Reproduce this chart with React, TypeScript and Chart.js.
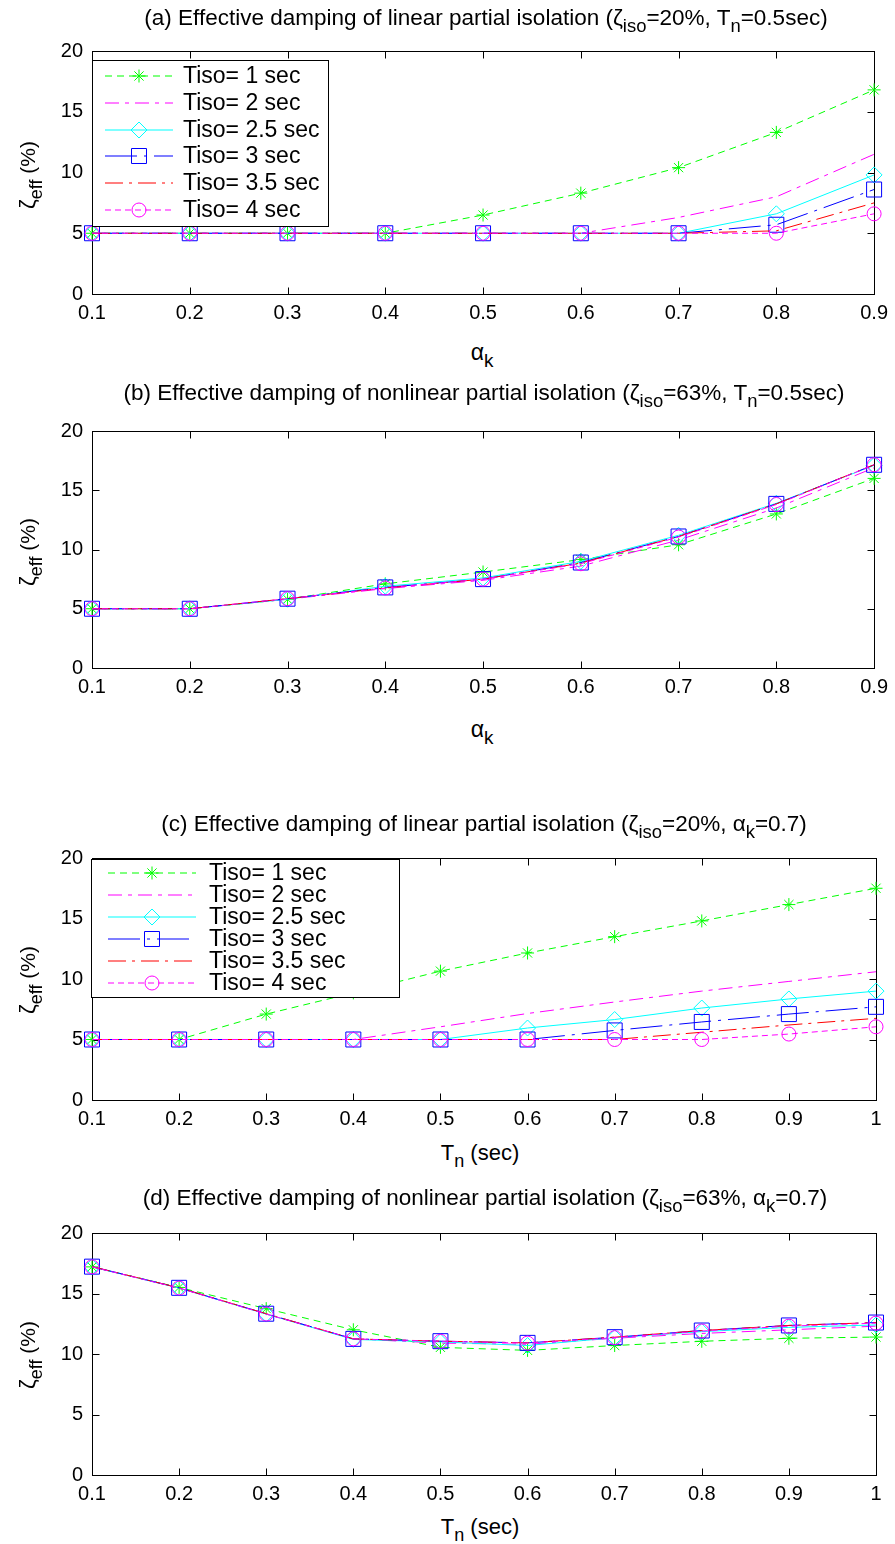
import React, { useEffect, useRef } from "react";
import { Chart, registerables } from "chart.js";

Chart.register(...registerables);

// ---------------- data ----------------
const SERIES_LABELS = ["Tiso= 1 sec", "Tiso= 2 sec", "Tiso= 2.5 sec", "Tiso= 3 sec", "Tiso= 3.5 sec", "Tiso= 4 sec"];

const ALPHA_K = [0.1, 0.2, 0.3, 0.4, 0.5, 0.6, 0.7, 0.8, 0.9];
const TN = [0.1, 0.2, 0.3, 0.4, 0.5, 0.6, 0.7, 0.8, 0.9, 1.0];

const ALPHA_TICK_LABELS = ["0.1", "0.2", "0.3", "0.4", "0.5", "0.6", "0.7", "0.8", "0.9"];
const TN_TICK_LABELS = ["0.1", "0.2", "0.3", "0.4", "0.5", "0.6", "0.7", "0.8", "0.9", "1"];
const Y_TICKS = [0, 5, 10, 15, 20];
const Y_TICK_LABELS = ["0", "5", "10", "15", "20"];

// (a) linear partial isolation, zeta_iso = 20%, Tn = 0.5 s
const A_T1 = [5, 5, 5, 5, 6.5, 8.3, 10.4, 13.3, 16.8];
const A_T2 = [5, 5, 5, 5, 5, 5, 6.3, 8.0, 11.5];
const A_T25 = [5, 5, 5, 5, 5, 5, 5, 6.6, 9.8];
const A_T3 = [5, 5, 5, 5, 5, 5, 5, 5.7, 8.6];
const A_T35 = [5, 5, 5, 5, 5, 5, 5, 5.2, 7.5];
const A_T4 = [5, 5, 5, 5, 5, 5, 5, 5.0, 6.6];

// (b) nonlinear partial isolation, zeta_iso = 63%, Tn = 0.5 s
const B_T1 = [5, 5, 5.8, 7.1, 8.1, 9.15, 10.4, 13.0, 16.0];
const B_T2 = [5, 5, 5.8, 6.7, 7.4, 8.6, 10.8, 13.5, 16.9];
const B_T25 = [5, 5, 5.8, 6.9, 7.6, 9.0, 11.2, 13.9, 17.1];
const B_T3 = [5, 5, 5.85, 6.8, 7.5, 8.9, 11.1, 13.85, 17.15];
const B_T35 = [5, 5, 5.85, 6.75, 7.5, 8.85, 11.1, 13.85, 17.15];
const B_T4 = [5, 5, 5.85, 6.75, 7.5, 8.8, 11.05, 13.8, 17.15];

// (c) linear partial isolation, zeta_iso = 20%, alpha_k = 0.7
const C_T1 = [5, 5, 7.1, 8.85, 10.65, 12.15, 13.5, 14.8, 16.15, 17.5];
const C_T2 = [5, 5, 5, 5, 6.05, 7.15, 8.1, 9.0, 9.8, 10.6];
const C_T25 = [5, 5, 5, 5, 5, 5.95, 6.65, 7.6, 8.35, 9.0];
const C_T3 = [5, 5, 5, 5, 5, 5, 5.75, 6.45, 7.1, 7.7];
const C_T35 = [5, 5, 5, 5, 5, 5, 5, 5.6, 6.2, 6.75];
const C_T4 = [5, 5, 5, 5, 5, 5, 5, 5, 5.45, 6.05];

// (d) nonlinear partial isolation, zeta_iso = 63%, alpha_k = 0.7
const D_T1 = [17.2, 15.5, 13.75, 12.0, 10.55, 10.3, 10.7, 11.05, 11.3, 11.4];
const D_T2 = [17.2, 15.45, 13.3, 11.25, 10.9, 10.8, 11.3, 11.7, 12.0, 12.3];
const D_T25 = [17.2, 15.45, 13.3, 11.2, 11.0, 10.7, 11.35, 11.85, 12.2, 12.4];
const D_T3 = [17.22, 15.47, 13.33, 11.25, 11.06, 10.92, 11.39, 11.94, 12.36, 12.6];
const D_T35 = [17.22, 15.47, 13.33, 11.25, 11.06, 10.92, 11.39, 11.94, 12.36, 12.6];
const D_T4 = [17.2, 15.45, 13.3, 11.25, 11.05, 10.9, 11.35, 11.9, 12.3, 12.55];

// ---------------- styles ----------------
const STYLES = [
  { color: "#00ff00", dash: [7, 5], marker: "star", radius: 6.5 },
  { color: "#ff00ff", dash: [14, 6, 4, 6], marker: "none", radius: 0 },
  { color: "#00ffff", dash: [], marker: "rectRot", radius: 8 },
  { color: "#0000ff", dash: [32, 7, 3, 7], marker: "rect", radius: 10.6 },
  { color: "#ff0000", dash: [18, 6, 3, 6], marker: "none", radius: 0 },
  { color: "#ff00ff", dash: [6, 4], marker: "circle", radius: 7 },
];

const FONT = '"Liberation Sans", Arial, Helvetica, sans-serif';

function drawMarker(ctx: CanvasRenderingContext2D, style: string, x: number, y: number, r: number, color: string) {
  if (style === "none") return;
  ctx.save();
  ctx.strokeStyle = color;
  ctx.lineWidth = 1;
  ctx.setLineDash([]);
  ctx.beginPath();
  if (style === "star") {
    ctx.moveTo(x - r, y); ctx.lineTo(x + r, y);
    ctx.moveTo(x, y - r); ctx.lineTo(x, y + r);
    const d = r * Math.SQRT1_2;
    ctx.moveTo(x - d, y - d); ctx.lineTo(x + d, y + d);
    ctx.moveTo(x - d, y + d); ctx.lineTo(x + d, y - d);
  } else if (style === "rectRot") {
    ctx.moveTo(x - r, y); ctx.lineTo(x, y - r); ctx.lineTo(x + r, y); ctx.lineTo(x, y + r); ctx.closePath();
  } else if (style === "rect") {
    const s = r * Math.SQRT1_2;
    ctx.rect(x - s, y - s, 2 * s, 2 * s);
  } else if (style === "circle") {
    ctx.arc(x, y, r, 0, Math.PI * 2);
  }
  ctx.stroke();
  ctx.restore();
}

const framePlugin = {
  id: "frame",
  beforeDatasetsDraw(chart: any) {
    const { ctx, chartArea, scales } = chart;
    const l = Math.round(chartArea.left) + 0.5;
    const r = Math.round(chartArea.right) + 0.5;
    const t = Math.round(chartArea.top) + 0.5;
    const b = Math.round(chartArea.bottom) + 0.5;
    ctx.save();
    ctx.strokeStyle = "#000";
    ctx.lineWidth = 1;
    ctx.strokeRect(l, t, r - l, b - t);
    const TL = 7;
    ctx.beginPath();
    scales.x.ticks.forEach((tk: any) => {
      const px = Math.round(scales.x.getPixelForValue(tk.value)) + 0.5;
      ctx.moveTo(px, b); ctx.lineTo(px, b - TL);
      ctx.moveTo(px, t); ctx.lineTo(px, t + TL);
    });
    scales.y.ticks.forEach((tk: any) => {
      const py = Math.round(scales.y.getPixelForValue(tk.value)) + 0.5;
      ctx.moveTo(l, py); ctx.lineTo(l + TL, py);
      ctx.moveTo(r, py); ctx.lineTo(r - TL, py);
    });
    ctx.stroke();
    ctx.restore();
  },
};

const boxLegendPlugin = {
  id: "boxLegend",
  afterDatasetsDraw(chart: any, _args: any, opts: any) {
    if (!opts || !opts.show) return;
    const { ctx } = chart;
    ctx.save();
    ctx.fillStyle = "#fff";
    ctx.fillRect(opts.left, opts.top, opts.right - opts.left, opts.bottom - opts.top);
    ctx.strokeStyle = "#000";
    ctx.lineWidth = 1;
    ctx.strokeRect(opts.left + 0.5, opts.top + 0.5, opts.right - opts.left, opts.bottom - opts.top);
    ctx.restore();
    chart.data.datasets.forEach((ds: any, i: number) => {
      const st = STYLES[i];
      const y = Math.round(opts.top + opts.firstRow + i * opts.rowStep);
      ctx.save();
      ctx.strokeStyle = st.color;
      ctx.lineWidth = 1.2;
      ctx.setLineDash(st.dash);
      ctx.beginPath();
      ctx.moveTo(opts.lineX0, y);
      ctx.lineTo(opts.lineX1, y);
      ctx.stroke();
      ctx.restore();
      drawMarker(ctx, st.marker, (opts.lineX0 + opts.lineX1) / 2, y, st.radius, st.color);
      ctx.save();
      ctx.font = `${opts.fontSize}px ${FONT}`;
      ctx.textBaseline = "middle";
      ctx.textAlign = "left";
      ctx.fillStyle = "#000";
      ctx.fillText(ds.label, opts.textX, y + 1);
      ctx.restore();
    });
  },
};

type PanelDef = {
  xs: number[];
  series: number[][];
  xTickLabels: string[];
  canvasTop: number;
  canvasHeight: number;
  areaTop: number;
  areaBottom: number;
  xMax: number;
  legend: any;
};

const PANELS: PanelDef[] = [
  {
    xs: ALPHA_K, series: [A_T1, A_T2, A_T25, A_T3, A_T35, A_T4], xTickLabels: ALPHA_TICK_LABELS,
    canvasTop: 30, canvasHeight: 300, areaTop: 50, areaBottom: 294, xMax: 0.9,
    legend: { show: true, left: 92, top: 60, right: 328, bottom: 226, firstRow: 16, rowStep: 26.8, lineX0: 105, lineX1: 173, textX: 183, fontSize: 23 },
  },
  {
    xs: ALPHA_K, series: [B_T1, B_T2, B_T25, B_T3, B_T35, B_T4], xTickLabels: ALPHA_TICK_LABELS,
    canvasTop: 410, canvasHeight: 295, areaTop: 430, areaBottom: 668, xMax: 0.9,
    legend: { show: false },
  },
  {
    xs: TN, series: [C_T1, C_T2, C_T25, C_T3, C_T35, C_T4], xTickLabels: TN_TICK_LABELS,
    canvasTop: 837, canvasHeight: 298, areaTop: 857, areaBottom: 1100, xMax: 1.0,
    legend: { show: true, left: 91, top: 859, right: 399, bottom: 997, firstRow: 14, rowStep: 22, lineX0: 108, lineX1: 196, textX: 209, fontSize: 23 },
  },
  {
    xs: TN, series: [D_T1, D_T2, D_T25, D_T3, D_T35, D_T4], xTickLabels: TN_TICK_LABELS,
    canvasTop: 1212, canvasHeight: 298, areaTop: 1232, areaBottom: 1475, xMax: 1.0,
    legend: { show: false },
  },
];

function buildChart(canvas: HTMLCanvasElement, p: PanelDef) {
  const padTop = p.areaTop - p.canvasTop;
  const xAxisH = p.canvasTop + p.canvasHeight - p.areaBottom;
  const legendOpts = p.legend.show
    ? { ...p.legend, top: p.legend.top - p.canvasTop, bottom: p.legend.bottom - p.canvasTop }
    : { show: false };
  const tickFont = { family: FONT, size: 20 };
  return new Chart(canvas, {
    type: "line",
    data: {
      datasets: p.series.map((ys, i) => {
        const st = STYLES[i];
        return {
          label: SERIES_LABELS[i],
          data: p.xs.map((x, j) => ({ x, y: ys[j] })),
          borderColor: st.color,
          backgroundColor: "rgba(0,0,0,0)",
          borderWidth: 1,
          borderDash: st.dash,
          pointStyle: st.marker === "none" ? false : st.marker,
          pointRadius: st.radius,
          pointHoverRadius: st.radius,
          pointBorderColor: st.color,
          pointBackgroundColor: "rgba(0,0,0,0)",
          pointBorderWidth: 1,
          tension: 0,
          fill: false,
          clip: false,
          order: 6 - i,
        } as any;
      }),
    },
    options: {
      animation: false,
      responsive: false,
      maintainAspectRatio: false,
      devicePixelRatio: 1,
      events: [],
      layout: { padding: { top: padTop, right: 19, left: 0, bottom: 0 } },
      plugins: {
        legend: { display: false },
        tooltip: { enabled: false },
        title: { display: false },
        boxLegend: legendOpts,
      } as any,
      scales: {
        x: {
          type: "linear",
          min: 0.1,
          max: p.xMax,
          afterBuildTicks: (s: any) => { s.ticks = p.xs.map((v) => ({ value: v })); },
          afterFit: (s: any) => { s.height = xAxisH; },
          grid: { display: false, drawTicks: false },
          border: { display: false },
          ticks: {
            color: "#000", font: tickFont, padding: 7, maxRotation: 0, autoSkip: false,
            callback: (_v: any, i: number) => p.xTickLabels[i],
          },
        },
        y: {
          type: "linear",
          min: 0,
          max: 20,
          afterBuildTicks: (s: any) => { s.ticks = Y_TICKS.map((v) => ({ value: v })); },
          afterFit: (s: any) => { s.width = 92; },
          grid: { display: false, drawTicks: false },
          border: { display: false },
          ticks: {
            color: "#000", font: tickFont, padding: 9,
            callback: (_v: any, i: number) => Y_TICK_LABELS[i],
          },
        },
      },
    } as any,
    plugins: [framePlugin, boxLegendPlugin],
  });
}

const Sub = ({ children, scale = 0.82 }: { children: React.ReactNode; scale?: number }) => (
  <span style={{ fontSize: `${scale}em`, position: "relative", top: "0.38em" }}>{children}</span>
);

const centerText = (x: number, y: number, size: number, content: React.ReactNode, key: string) => (
  <div
    key={key}
    style={{
      position: "absolute", left: x, top: y, transform: "translate(-50%, -50%)",
      whiteSpace: "nowrap", fontSize: size, lineHeight: 1, fontFamily: FONT, color: "#000",
    }}
  >
    {content}
  </div>
);

const yLabel = (x: number, y: number, key: string) => (
  <div
    key={key}
    style={{
      position: "absolute", left: x, top: y, transform: "translate(-50%, -50%) rotate(-90deg)",
      whiteSpace: "nowrap", fontSize: 21, lineHeight: 1, fontFamily: FONT, color: "#000",
    }}
  >
    <span style={{ fontSize: 22 }}>ζ</span>
    <Sub scale={0.86}>eff</Sub> (%)
  </div>
);

export default function App() {
  const refs = [useRef<HTMLCanvasElement>(null), useRef<HTMLCanvasElement>(null), useRef<HTMLCanvasElement>(null), useRef<HTMLCanvasElement>(null)];

  useEffect(() => {
    const charts = PANELS.map((p, i) => buildChart(refs[i].current as HTMLCanvasElement, p));
    return () => charts.forEach((c) => c.destroy());
  }, []);

  return (
    <div style={{ position: "absolute", left: 0, top: 0, width: 895, height: 1544, background: "#fff", overflow: "hidden" }}>
      {PANELS.map((p, i) => (
        <canvas
          key={i}
          ref={refs[i]}
          width={895}
          height={p.canvasHeight}
          style={{ position: "absolute", left: 0, top: p.canvasTop, width: 895, height: p.canvasHeight }}
        />
      ))}
      {centerText(486, 18, 22.5, <>(a) Effective damping of linear partial isolation (ζ<Sub>iso</Sub>=20%, T<Sub>n</Sub>=0.5sec)</>, "ta")}
      {centerText(484, 393, 22.5, <>(b) Effective damping of nonlinear partial isolation (ζ<Sub>iso</Sub>=63%, T<Sub>n</Sub>=0.5sec)</>, "tb")}
      {centerText(484, 824, 22.5, <>(c) Effective damping of linear partial isolation (ζ<Sub>iso</Sub>=20%, α<Sub>k</Sub>=0.7)</>, "tc")}
      {centerText(485, 1198, 22.5, <>(d) Effective damping of nonlinear partial isolation (ζ<Sub>iso</Sub>=63%, α<Sub>k</Sub>=0.7)</>, "td")}
      {centerText(482, 352, 23, <>α<Sub>k</Sub></>, "xa")}
      {centerText(482, 729, 23, <>α<Sub>k</Sub></>, "xb")}
      {centerText(480, 1153, 22, <>T<Sub>n</Sub> (sec)</>, "xc")}
      {centerText(480, 1527, 22, <>T<Sub>n</Sub> (sec)</>, "xd")}
      {yLabel(28, 175, "ya")}
      {yLabel(28, 552, "yb")}
      {yLabel(28, 980, "yc")}
      {yLabel(28, 1355, "yd")}
    </div>
  );
}
